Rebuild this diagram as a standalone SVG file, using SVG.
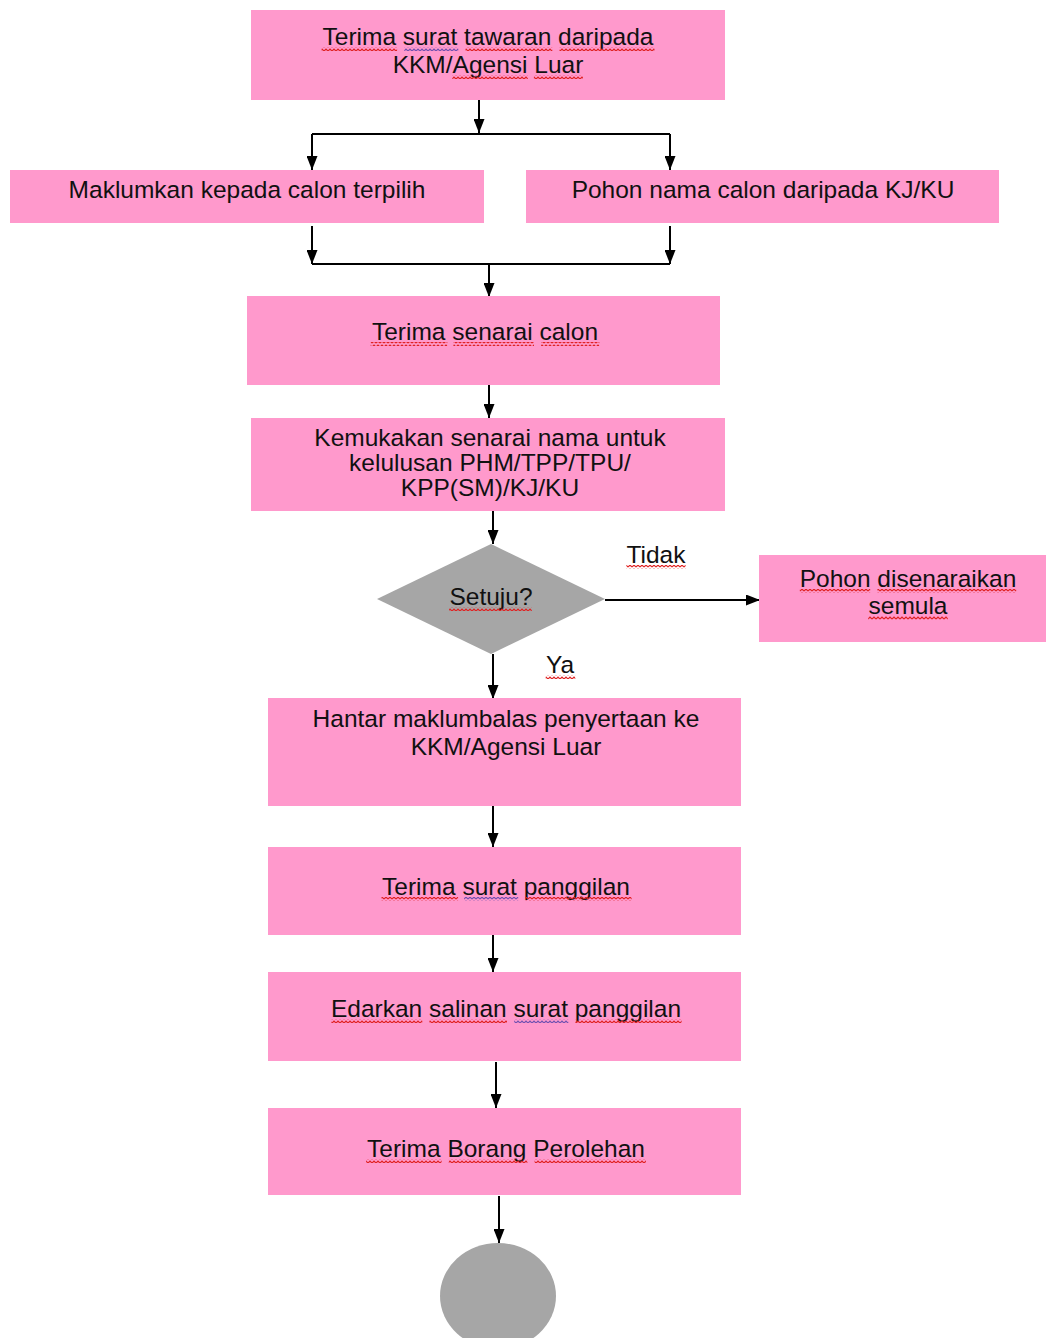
<svg xmlns="http://www.w3.org/2000/svg" width="1046" height="1338" viewBox="0 0 1046 1338">
<style>
.box{fill:#ff99cc}
.gray{fill:#a6a6a6}
.t{font-family:"Liberation Sans",Arial,sans-serif;font-size:24.5px;fill:#111;text-anchor:middle}
.c{fill:none;stroke:#000;stroke-width:2}
.sq{fill:url(#sqr)}
.sqp{fill:url(#sqp)}
</style>
<defs>
<marker id="ah" markerWidth="14" markerHeight="11" refX="14" refY="5.5" orient="auto" markerUnits="userSpaceOnUse">
<path d="M0,0 L14,5.5 L0,11 z" fill="#000"/>
</marker>
<pattern id="sqr" width="4" height="4" patternUnits="userSpaceOnUse">
<path d="M0,3 L2,1 L4,3" fill="none" stroke="#e02020" stroke-width="1.2"/>
</pattern>
<pattern id="sqp" width="4" height="4" patternUnits="userSpaceOnUse">
<path d="M0,3 L2,1 L4,3" fill="none" stroke="#7050b0" stroke-width="1.2"/>
</pattern>
</defs>

<g id="connectors">
<path class="c" d="M479,100 V133" marker-end="url(#ah)"/>
<path class="c" d="M312,134 H670"/>
<path class="c" d="M312,134 V170" marker-end="url(#ah)"/>
<path class="c" d="M670,134 V170" marker-end="url(#ah)"/>
<path class="c" d="M312,226 V264" marker-end="url(#ah)"/>
<path class="c" d="M670,226 V264" marker-end="url(#ah)"/>
<path class="c" d="M312,264 H670"/>
<path class="c" d="M489,264 V297" marker-end="url(#ah)"/>
<path class="c" d="M489,385 V418" marker-end="url(#ah)"/>
<path class="c" d="M493,511 V544" marker-end="url(#ah)"/>
<path class="c" d="M605,600 H760" marker-end="url(#ah)"/>
<path class="c" d="M493,654 V699" marker-end="url(#ah)"/>
<path class="c" d="M493,806 V847" marker-end="url(#ah)"/>
<path class="c" d="M493,935 V972" marker-end="url(#ah)"/>
<path class="c" d="M496,1062 V1108" marker-end="url(#ah)"/>
<path class="c" d="M499,1196 V1243" marker-end="url(#ah)"/>
</g>

<g id="n1">
<rect class="box" x="251" y="10" width="474" height="90"/>
<text class="t" x="488" y="45">Terima surat tawaran daripada</text>
<text class="t" x="488" y="73">KKM/Agensi Luar</text>
<rect class="sq" x="321.6" y="47" width="75.5" height="4"/>
<rect class="sqp" x="404.3" y="47" width="54" height="4"/>
<rect class="sq" x="465.5" y="47" width="86.8" height="4"/>
<rect class="sq" x="559.5" y="47" width="95" height="4"/>
<rect class="sq" x="452.3" y="75" width="75.5" height="4"/>
<rect class="sq" x="533.9" y="75" width="49" height="4"/>
</g>

<g id="n2">
<rect class="box" x="10" y="170" width="474" height="53"/>
<text class="t" x="247" y="198">Maklumkan kepada calon terpilih</text>
</g>

<g id="n3">
<rect class="box" x="526" y="170" width="473" height="53"/>
<text class="t" x="763" y="198">Pohon nama calon daripada KJ/KU</text>
</g>

<g id="n4">
<rect class="box" x="247" y="296" width="473" height="89"/>
<text class="t" x="485" y="340">Terima senarai calon</text>
<rect class="sq" x="370.7" y="342" width="76.6" height="4"/>
<rect class="sq" x="453.4" y="342" width="80.6" height="4"/>
<rect class="sq" x="541.1" y="342" width="58.2" height="4"/>
</g>

<g id="n5">
<rect class="box" x="251" y="418" width="474" height="93"/>
<text class="t" x="490" y="446">Kemukakan senarai nama untuk</text>
<text class="t" x="490" y="471">kelulusan PHM/TPP/TPU/</text>
<text class="t" x="490" y="496">KPP(SM)/KJ/KU</text>
</g>

<g id="n6">
<polygon class="gray" points="491,544 605,599 491,654 377,599"/>
<text class="t" x="491" y="605">Setuju?</text>
<rect class="sq" x="449.1" y="607" width="82.7" height="4"/>
</g>

<g id="lbl-tidak">
<text class="t" x="656" y="563">Tidak</text>
<rect class="sq" x="626.4" y="565" width="59.2" height="4"/>
</g>

<g id="lbl-ya">
<text class="t" x="560" y="673">Ya</text>
<rect class="sq" x="545.7" y="675" width="29.6" height="4"/>
</g>

<g id="n7">
<rect class="box" x="759" y="555" width="287" height="87"/>
<text class="t" x="908" y="587">Pohon disenaraikan</text>
<text class="t" x="908" y="614">semula</text>
<rect class="sq" x="799.8" y="589" width="70.4" height="4"/>
<rect class="sq" x="877.4" y="589" width="138.8" height="4"/>
<rect class="sq" x="868.2" y="616" width="79.6" height="4"/>
</g>

<g id="n8">
<rect class="box" x="268" y="698" width="473" height="108"/>
<text class="t" x="506" y="727">Hantar maklumbalas penyertaan ke</text>
<text class="t" x="506" y="755">KKM/Agensi Luar</text>
</g>

<g id="n9">
<rect class="box" x="268" y="847" width="473" height="88"/>
<text class="t" x="506" y="895">Terima surat panggilan</text>
<rect class="sq" x="381.5" y="897" width="76.6" height="4"/>
<rect class="sqp" x="464.1" y="897" width="54.1" height="4"/>
<rect class="sq" x="525.4" y="897" width="106.2" height="4"/>
</g>

<g id="n10">
<rect class="box" x="268" y="972" width="473" height="89"/>
<text class="t" x="506" y="1017">Edarkan salinan surat panggilan</text>
<rect class="sq" x="331.4" y="1019" width="90.9" height="4"/>
<rect class="sq" x="429.4" y="1019" width="77.6" height="4"/>
<rect class="sqp" x="514.2" y="1019" width="54.1" height="4"/>
<rect class="sq" x="575.4" y="1019" width="106.2" height="4"/>
</g>

<g id="n11">
<rect class="box" x="268" y="1108" width="473" height="87"/>
<text class="t" x="506" y="1157">Terima Borang Perolehan</text>
<rect class="sq" x="366.1" y="1159" width="75.5" height="4"/>
<rect class="sq" x="448.8" y="1159" width="78.6" height="4"/>
<rect class="sq" x="534.6" y="1159" width="111.3" height="4"/>
</g>

<g id="n12">
<ellipse class="gray" cx="498" cy="1296" rx="58" ry="53"/>
</g>
</svg>
